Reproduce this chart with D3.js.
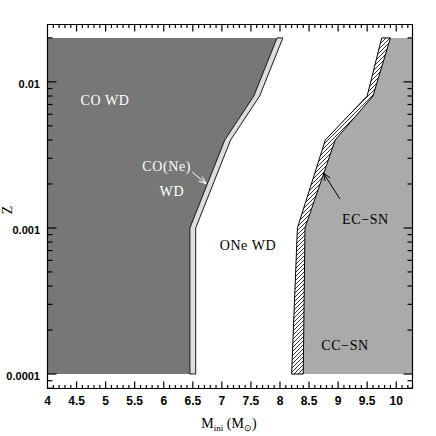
<!DOCTYPE html>
<html>
<head>
<meta charset="utf-8">
<script src="https://cdn.jsdelivr.net/npm/d3@7"></script>
<style>
  body { margin: 0; background: #fff; }
  #chart { position: relative; width: 436px; height: 436px; }
  #chart svg { position: absolute; left: 0; top: 0; display: block; }
</style>
</head>
<body>
<div id="chart"></div>
<script>
'use strict';

// Data ==========================================

// metallicity grid and the upper initial mass of each fate at that Z
var zGrid   = [0.0001, 0.001, 0.004, 0.008, 0.02];
var mCOWD   = [6.45, 6.45, 7.05, 7.55, 7.95];   // CO WD upper limit
var mCONeWD = [6.55, 6.55, 7.15, 7.65, 8.05];   // CO(Ne) WD upper limit
var mONeWD  = [8.2, 8.3, 8.78, 9.5, 9.75];      // ONe WD upper limit
var mECSN   = [8.4, 8.43, 8.95, 9.6, 9.9];      // EC-SN upper limit

var xTicks = [4, 4.5, 5, 5.5, 6, 6.5, 7, 7.5, 8, 8.5, 9, 9.5, 10];
var xTickLabels = ['4', '4.5', '5', '5.5', '6', '6.5', '7', '7.5', '8', '8.5', '9', '9.5', '10'];
var yTicks = [0.0001, 0.001, 0.01];
var yTickLabels = ['0.0001', '0.001', '0.01'];

// region labels (in data coords)
var labelText  = ['CO WD', 'CO(Ne)', 'WD', 'ONe WD', 'EC\u2212SN', 'CC\u2212SN'];
var labelM     = [4.99, 6.05, 6.14, 7.45, 9.47, 9.12];
var labelZ     = [0.00692, 0.00245, 0.00165, 0.000708, 0.00106, 0.000147];
var labelColor = ['#fff', '#fff', '#fff', '#000', '#000', '#000'];

// arrows pointing at the thin bands
var arrowFrom  = [[6.49, 0.00241], [9.03, 0.00158]];
var arrowTo    = [[6.73, 0.00201], [8.75, 0.00237]];
var arrowColor = ['#fff', '#000'];

//Set-up sizes ===================================

var width = 436, height = 436;
var plotLeft = 47.5, plotRight = 412.5, plotTop = 24.5, plotBottom = 388.5;
var mMin = 4, mMax = 10.28;

var svg = d3.select('#chart').append('svg')
    .attr('width', width)
    .attr('height', height);

var x = d3.scaleLinear().domain([mMin, mMax]).range([plotLeft, plotRight]);
var y = d3.scaleLog().domain([7.96e-5, 0.0247]).range([plotBottom, plotTop]);

var line = d3.line()
    .x(function (d) { return x(d[0]); })
    .y(function (d) { return y(d[1]); });

function pts(ms) {
  return zGrid.map(function (z, i) { return [ms[i], z]; });
}

var zLo = zGrid[0], zHi = zGrid[zGrid.length - 1];

// hatch pattern for the EC-SN band
var hatch = svg.append('defs').append('pattern')
    .attr('id', 'hatch')
    .attr('patternUnits', 'userSpaceOnUse')
    .attr('width', 4)
    .attr('height', 4);
hatch.append('rect').attr('width', 4).attr('height', 4).attr('fill', '#fff');
hatch.append('path')
    .attr('d', 'M-1,1 l2,-2 M0,4 l4,-4 M3,5 l2,-2')
    .attr('stroke', '#000')
    .attr('stroke-width', 0.8);

//Regions =========================================

var regions = svg.append('g').classed('regions', true);

// CO WD
regions.append('path')
    .attr('d', line([[mMin, zLo]].concat(pts(mCOWD), [[mMin, zHi]])) + 'Z')
    .attr('fill', '#777');

// CC-SN
regions.append('path')
    .attr('d', line(pts(mECSN).concat([[mMax, zHi], [mMax, zLo]])) + 'Z')
    .attr('fill', '#aaa');

// CO(Ne) WD band
regions.append('path')
    .attr('d', line(pts(mCOWD).concat(pts(mCONeWD).reverse())) + 'Z')
    .attr('fill', '#ddd')
    .attr('stroke', '#000')
    .attr('stroke-width', 0.9);

// EC-SN band
regions.append('path')
    .attr('d', line(pts(mONeWD).concat(pts(mECSN).reverse())) + 'Z')
    .attr('fill', 'url(#hatch)')
    .attr('stroke', '#000')
    .attr('stroke-width', 1);

//Labels and arrows ===============================

labelText.forEach(function (t, i) {
  svg.append('text')
    .attr('x', x(labelM[i]))
    .attr('y', y(labelZ[i]))
    .attr('text-anchor', 'middle')
    .style('font-family', '"Liberation Serif", serif')
    .style('font-size', '14px')
    .style('letter-spacing', '0.6px')
    .attr('fill', labelColor[i])
    .text(t);
});

arrowFrom.forEach(function (a, i) {
  var x1 = x(a[0]), y1 = y(a[1]), x2 = x(arrowTo[i][0]), y2 = y(arrowTo[i][1]);
  var ang = Math.atan2(y2 - y1, x2 - x1), len = 8, spread = 0.38;
  var g = svg.append('g')
    .attr('stroke', arrowColor[i])
    .attr('stroke-width', 1)
    .attr('fill', 'none');
  g.append('line').attr('x1', x1).attr('y1', y1).attr('x2', x2).attr('y2', y2);
  g.append('path')
    .attr('d', 'M' + (x2 - len * Math.cos(ang - spread)) + ',' + (y2 - len * Math.sin(ang - spread)) +
               'L' + x2 + ',' + y2 +
               'L' + (x2 - len * Math.cos(ang + spread)) + ',' + (y2 - len * Math.sin(ang + spread)));
});

//Tick labels and titles ==========================

svg.append('g').selectAll('text')
  .data(xTicks)
  .enter().append('text')
    .attr('x', function (d) { return x(d); })
    .attr('y', 405)
    .attr('text-anchor', 'middle')
    .style('font-family', '"Liberation Sans", sans-serif')
    .style('font-weight', 'bold')
    .style('font-size', '12px')
    .text(function (d, i) { return xTickLabels[i]; });

svg.append('g').selectAll('text')
  .data(yTicks)
  .enter().append('text')
    .attr('x', 40)
    .attr('y', function (d) { return y(d) + 6; })
    .attr('text-anchor', 'end')
    .style('font-family', '"Liberation Sans", sans-serif')
    .style('font-weight', 'bold')
    .style('font-size', '11px')
    .text(function (d, i) { return yTickLabels[i]; });

var xt = svg.append('text')
    .attr('x', 229)
    .attr('y', 428)
    .attr('text-anchor', 'middle')
    .style('font-family', '"Liberation Serif", serif')
    .style('font-size', '14px');
xt.append('tspan').text('M');
xt.append('tspan').attr('dy', 3).style('font-size', '9px').text('ini');
xt.append('tspan').attr('dy', -3).text(' (M');
xt.append('tspan').attr('dy', 3).style('font-size', '9px').text('\u2299');
xt.append('tspan').attr('dy', -3).text(')');

svg.append('text')
    .attr('transform', 'translate(12,210) rotate(-90)')
    .attr('text-anchor', 'middle')
    .style('font-family', '"Liberation Serif", serif')
    .style('font-size', '14px')
    .text('Z');

//Frame and ticks, on their own layer on top ======

var frame = d3.select('#chart').append('svg')
    .attr('width', width)
    .attr('height', height);

var axes = frame.append('g')
    .attr('stroke', '#000')
    .attr('stroke-width', 1.2)
    .attr('fill', 'none');

axes.append('path')
    .attr('d', 'M' + plotLeft + ',' + plotTop + 'H' + plotRight + 'V' + plotBottom + 'H' + plotLeft + 'Z');

// x minor ticks every 0.1, major every 0.5
d3.range(41, 103).forEach(function (k) {
  var m = k / 10, len = (k % 5 === 0) ? 7 : 3.5;
  axes.append('line').attr('x1', x(m)).attr('x2', x(m)).attr('y1', plotBottom).attr('y2', plotBottom - len);
  axes.append('line').attr('x1', x(m)).attr('x2', x(m)).attr('y1', plotTop).attr('y2', plotTop + len);
});

// y log ticks
[-5, -4, -3, -2].forEach(function (p) {
  d3.range(1, 10).forEach(function (k) {
    var z = k * Math.pow(10, p);
    if (z < y.domain()[0] || z > y.domain()[1]) return;
    var len = (k === 1) ? 9 : 5;
    axes.append('line').attr('x1', plotLeft).attr('x2', plotLeft + len).attr('y1', y(z)).attr('y2', y(z));
    axes.append('line').attr('x1', plotRight).attr('x2', plotRight - len).attr('y1', y(z)).attr('y2', y(z));
  });
});
</script>
</body>
</html>
